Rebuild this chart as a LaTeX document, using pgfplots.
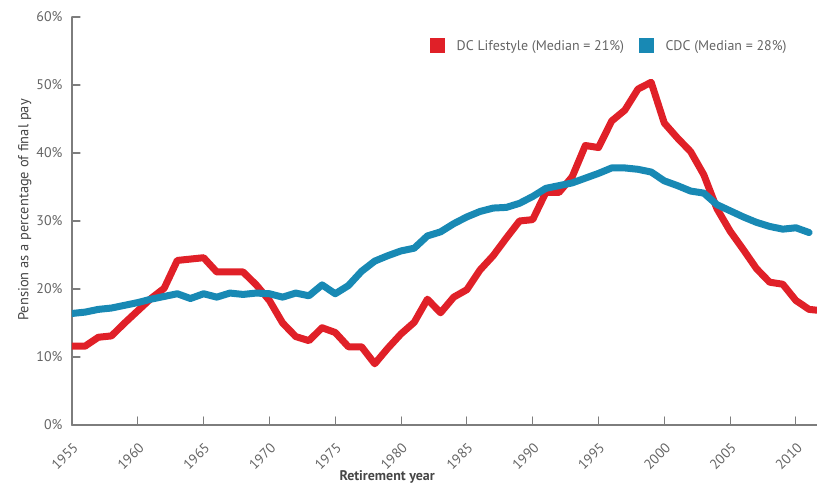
\documentclass[border=0pt]{standalone}
\usepackage{pgfplots}
\pgfplotsset{compat=1.18}
\usepackage{fontspec}
\setmainfont{PT Sans}
\definecolor{dcred}{RGB}{224,32,40}
\definecolor{cdcblue}{RGB}{24,137,180}
\definecolor{txtgray}{RGB}{100,100,100}
\definecolor{lblgray}{RGB}{70,70,70}
\definecolor{axgray}{RGB}{125,125,125}
\begin{document}
\begin{tikzpicture}[x=1bp,y=1bp]
\begin{axis}[
  scale only axis,
  width=745bp, height=408bp,
  xmin=1955, xmax=2011.6,
  ymin=0, ymax=60,
  clip=true,
  axis x line*=bottom, axis y line*=left,
  axis line style={axgray, line width=1.3bp},
  tick align=inside,
  major tick length=8bp,
  tick style={axgray, line width=1.1bp},
  xtick={1955,1960,...,2010},
  ytick={0,10,...,60},
  /pgf/number format/assume math mode=true,
  xticklabel={\pgfmathprintnumber[1000 sep={}]{\tick}},
  yticklabel={\pgfmathprintnumber{\tick}\%},
  ticklabel style={font=\fontsize{14}{16}\selectfont, text=txtgray},
  xticklabel style={xshift=6bp, yshift=-18bp, rotate=45, anchor=east},
  yticklabel style={xshift=-6bp},
  xlabel={Retirement year},
  ylabel={Pension as a percentage of final pay},
  xlabel style={font=\bfseries\fontsize{14}{16}\selectfont, text=lblgray,
    at={(axis description cs:0.423,0)}, anchor=north, yshift=-42bp},
  ylabel style={font=\fontsize{14.5}{16}\selectfont, text=lblgray,
    at={(axis description cs:0,0.527)}, anchor=south, yshift=37bp},
  legend columns=2,
  legend style={at={(axis description cs:0.966,0.929)}, anchor=east, draw=none, fill=none,
    font=\fontsize{14}{16}\selectfont, text=txtgray,
    /tikz/every even column/.append style={column sep=13bp}},
  legend image code/.code={\fill[#1, draw=none] (0bp,-7.5bp) rectangle (15bp,7.5bp); \path (21bp,0bp);},
  line join=round, line cap=round,
]
\addplot[dcred, line width=7bp] coordinates {
(1955,11.6) (1956,11.6) (1957,12.9) (1958,13.1) (1959,15.0) (1960,16.8)
(1961,18.6) (1962,20.1) (1963,24.2) (1964,24.4) (1965,24.6) (1966,22.5)
(1967,22.5) (1968,22.5) (1969,20.6) (1970,18.3) (1971,15.0) (1972,13.0)
(1973,12.4) (1974,14.3) (1975,13.6) (1976,11.5) (1977,11.5) (1978,9.0)
(1979,11.3) (1980,13.4) (1981,15.1) (1982,18.5) (1983,16.5) (1984,18.8)
(1985,19.9) (1986,22.8) (1987,24.9) (1988,27.5) (1989,30.0) (1990,30.2)
(1991,34.2) (1992,34.2) (1993,36.5) (1994,41.1) (1995,40.8) (1996,44.7)
(1997,46.3) (1998,49.4) (1999,50.4) (2000,44.4) (2001,42.2) (2002,40.2)
(2003,36.8) (2004,31.8) (2005,28.5) (2006,25.8) (2007,23.0) (2008,21.0)
(2009,20.7) (2010,18.3) (2011,17.0) (2012,16.8)
};
\addlegendentry{DC Lifestyle (Median = 21\%)}
\addplot[cdcblue, line width=7bp] coordinates {
(1955,16.4) (1956,16.6) (1957,17.0) (1958,17.2) (1959,17.6) (1960,18.0)
(1961,18.5) (1962,18.9) (1963,19.3) (1964,18.6) (1965,19.3) (1966,18.8)
(1967,19.4) (1968,19.2) (1969,19.4) (1970,19.3) (1971,18.8) (1972,19.4)
(1973,19.0) (1974,20.6) (1975,19.3) (1976,20.5) (1977,22.6) (1978,24.1)
(1979,24.9) (1980,25.6) (1981,26.0) (1982,27.8) (1983,28.4) (1984,29.6)
(1985,30.6) (1986,31.4) (1987,31.9) (1988,32.0) (1989,32.6) (1990,33.6)
(1991,34.8) (1992,35.2) (1993,35.6) (1994,36.3) (1995,37.0) (1996,37.8)
(1997,37.8) (1998,37.6) (1999,37.2) (2000,35.9) (2001,35.2) (2002,34.4)
(2003,34.1) (2004,32.4) (2005,31.5) (2006,30.6) (2007,29.8) (2008,29.2)
(2009,28.8) (2010,29.0) (2011,28.3)
};
\addlegendentry{CDC (Median = 28\%)}
\end{axis}
\pgfresetboundingbox
\path[use as bounding box] ([xshift=-72bp,yshift=-59bp]current axis.south west) rectangle ([yshift=17bp]current axis.north east);
\end{tikzpicture}
\end{document}
